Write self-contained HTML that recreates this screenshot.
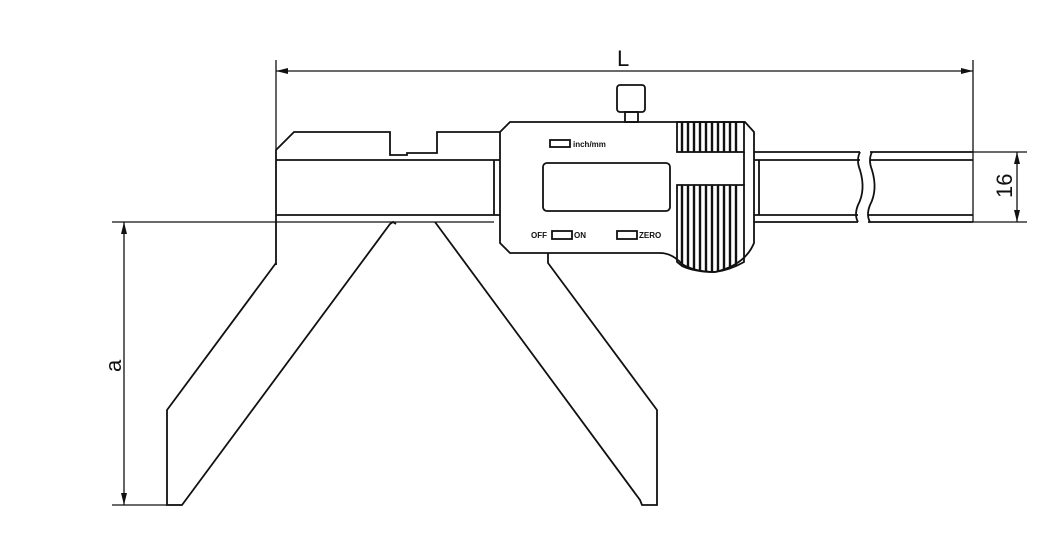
<!DOCTYPE html>
<html><head><meta charset="utf-8"><style>
html,body{margin:0;padding:0;background:#fff;}
svg{display:block;}
text{font-family:"Liberation Sans",sans-serif;fill:#111;}
</style></head><body>
<svg width="1057" height="558" viewBox="0 0 1057 558" xmlns="http://www.w3.org/2000/svg">
<g fill="none" stroke="#111" stroke-width="1.3">
<line x1="276" y1="60" x2="276" y2="150"/>
<line x1="973" y1="60" x2="973" y2="222"/>
<line x1="276" y1="71" x2="973" y2="71"/>
<line x1="973" y1="152" x2="1027" y2="152"/>
<line x1="973" y1="222" x2="1027" y2="222"/>
<line x1="1017" y1="152" x2="1017" y2="222"/>
<line x1="112" y1="222" x2="494" y2="222"/>
<line x1="112" y1="505" x2="182" y2="505"/>
<line x1="124" y1="222" x2="124" y2="505"/>
</g>
<g fill="none" stroke="#111" stroke-width="1.8">
<polyline points="276,265 276,150 294,132 390,132 390,155 407,155 407,153 437,153 437,132 500,132"/>
<line x1="276" y1="160" x2="500" y2="160"/>
<line x1="276" y1="215" x2="500" y2="215"/>
<line x1="494" y1="160" x2="494" y2="215"/>
<polyline points="276,263 167,410 167,505 182,505 390,224 393,222 396,224"/>
<polyline points="435,222 640,500 642,505 657,505 657,410 548,263 548,253"/>
<polyline points="754,152 860,152"/>
<polyline points="754,160 860,160"/>
<polyline points="754,215 858,215"/>
<polyline points="754,222 858,222"/>
<line x1="759" y1="160" x2="759" y2="215"/>
<polyline points="973,152 870,152"/>
<polyline points="973,160 870,160"/>
<polyline points="973,215 868,215"/>
<polyline points="973,222 868,222"/>
<path d="M860,152 Q856,160 860,170 Q866,190 858,205 Q854,215 858,222"/>
<path d="M872,152 Q868,160 872,170 Q878,190 870,205 Q866,215 870,222"/>
<path d="M510,122 L745,122 L754,132 L754,243 Q745,265 715,272 Q695,272 682,264 Q672,253 660,253 L510,253 L500,243 L500,132 Z" fill="#fff"/>
<rect x="677" y="122" width="67" height="30"/>
<line x1="744" y1="152" x2="744" y2="185"/>
<path d="M677,185 L744,185 L744,262 Q730,270 715,272 Q695,272 682,266 L677,262 Z"/>
<rect x="543" y="163" width="127" height="48" rx="4"/>
<rect x="617" y="85" width="28" height="27" rx="3"/>
<rect x="625" y="112" width="13" height="10"/>
<rect x="550" y="140" width="20" height="7"/>
<rect x="552" y="231" width="20" height="8"/>
<rect x="617" y="231" width="20" height="8"/>
</g>
<g stroke="#111" stroke-width="2.4">
<line x1="682" y1="122" x2="682" y2="152"/><line x1="688" y1="122" x2="688" y2="152"/><line x1="694" y1="122" x2="694" y2="152"/><line x1="700" y1="122" x2="700" y2="152"/><line x1="706" y1="122" x2="706" y2="152"/><line x1="712" y1="122" x2="712" y2="152"/><line x1="718" y1="122" x2="718" y2="152"/><line x1="724" y1="122" x2="724" y2="152"/><line x1="730" y1="122" x2="730" y2="152"/><line x1="736" y1="122" x2="736" y2="152"/>
<line x1="682" y1="185" x2="682" y2="265"/><line x1="688" y1="185" x2="688" y2="268"/><line x1="694" y1="185" x2="694" y2="270"/><line x1="700" y1="185" x2="700" y2="271"/><line x1="706" y1="185" x2="706" y2="272"/><line x1="712" y1="185" x2="712" y2="272"/><line x1="718" y1="185" x2="718" y2="271"/><line x1="724" y1="185" x2="724" y2="270"/><line x1="730" y1="185" x2="730" y2="268"/><line x1="736" y1="185" x2="736" y2="266"/>
</g>
<g fill="#111">
<polygon points="276,71 288,68 288,74"/>
<polygon points="973,71 961,68 961,74"/>
<polygon points="1017,152 1014,164 1020,164"/>
<polygon points="1017,222 1014,210 1020,210"/>
<polygon points="124,222 121,234 127,234"/>
<polygon points="124,505 121,493 127,493"/>
</g>
<text x="617" y="66" font-size="22">L</text>
<text x="0" y="0" font-size="22" transform="translate(1012,198) rotate(-90)">16</text>
<text x="0" y="0" font-size="22" transform="translate(121,372) rotate(-90)">a</text>
<text x="573" y="147" font-size="8" font-weight="bold">inch/mm</text>
<text x="531" y="238" font-size="8" font-weight="bold">OFF</text>
<text x="574" y="238" font-size="8" font-weight="bold">ON</text>
<text x="639" y="238" font-size="8" font-weight="bold">ZERO</text>
</svg>
</body></html>
